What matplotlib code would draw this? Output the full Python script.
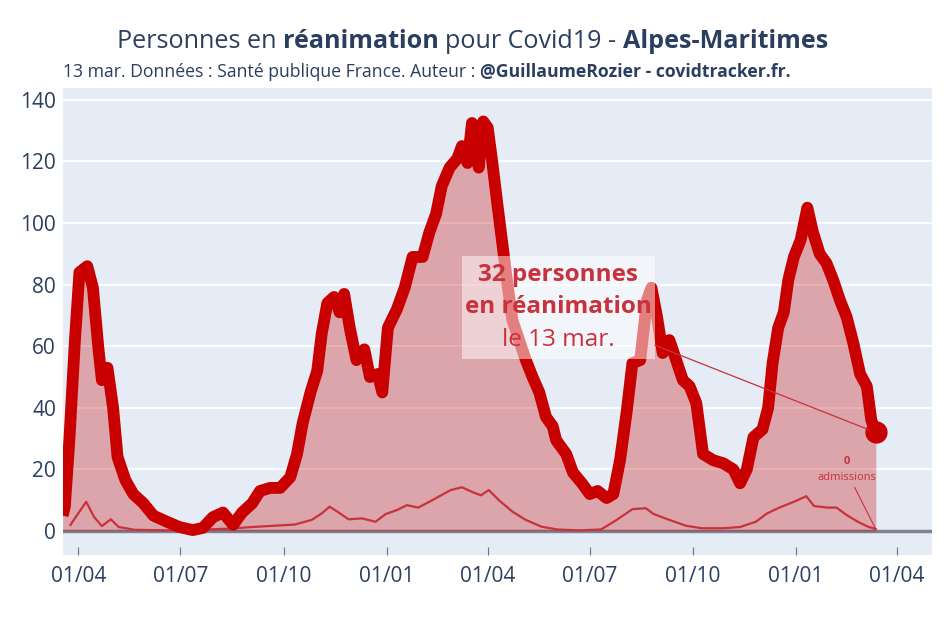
import matplotlib
matplotlib.use("Agg")
import matplotlib.pyplot as plt
import pandas as pd
from matplotlib.patches import Rectangle
from matplotlib.transforms import Bbox, IdentityTransform

# personnes en réanimation, Alpes-Maritimes
rea_dates = [
    "2020-03-18", "2020-03-20", "2020-03-24", "2020-03-29", "2020-04-02", "2020-04-09",
    "2020-04-14", "2020-04-19", "2020-04-22", "2020-04-27", "2020-05-02", "2020-05-06",
    "2020-05-13", "2020-05-20", "2020-05-29", "2020-06-07", "2020-06-19", "2020-06-30",
    "2020-07-12", "2020-07-21", "2020-07-30", "2020-08-08", "2020-08-17", "2020-08-25",
    "2020-09-03", "2020-09-10", "2020-09-19", "2020-09-28", "2020-10-07", "2020-10-13",
    "2020-10-18", "2020-10-25", "2020-10-31", "2020-11-04", "2020-11-09", "2020-11-15",
    "2020-11-20", "2020-11-24", "2020-11-29", "2020-12-05", "2020-12-12", "2020-12-17",
    "2020-12-24", "2020-12-28", "2021-01-02", "2021-01-10", "2021-01-17", "2021-01-24",
    "2021-02-02", "2021-02-08", "2021-02-14", "2021-02-19", "2021-02-26", "2021-03-05",
    "2021-03-09", "2021-03-14", "2021-03-18", "2021-03-24", "2021-03-28", "2021-04-01",
    "2021-04-05", "2021-04-10", "2021-04-14", "2021-04-19", "2021-04-23", "2021-04-29",
    "2021-05-05", "2021-05-11", "2021-05-17", "2021-05-23", "2021-05-29", "2021-06-01",
    "2021-06-10", "2021-06-16", "2021-06-24", "2021-07-01", "2021-07-08", "2021-07-16",
    "2021-07-22", "2021-07-28", "2021-08-03", "2021-08-08", "2021-08-15", "2021-08-21",
    "2021-08-25", "2021-08-30", "2021-09-04", "2021-09-10", "2021-09-16", "2021-09-22",
    "2021-09-28", "2021-10-04", "2021-10-10", "2021-10-19", "2021-10-28", "2021-11-06",
    "2021-11-12", "2021-11-18", "2021-11-24", "2021-12-02", "2021-12-07", "2021-12-11",
    "2021-12-16", "2021-12-21", "2021-12-25", "2021-12-30", "2022-01-05", "2022-01-11",
    "2022-01-16", "2022-01-22", "2022-01-28", "2022-02-03", "2022-02-09", "2022-02-15",
    "2022-02-21", "2022-02-27", "2022-03-05", "2022-03-09", "2022-03-13",
]
rea_values = [
    5, 8, 29.5, 62, 84, 86,
    79, 59, 49, 53, 40, 24,
    16.5, 12, 9, 5, 3, 1.3,
    0.3, 1, 4.5, 6, 2, 6,
    9, 13, 14, 14, 17.5, 25,
    35, 45, 52, 64, 74, 76,
    71, 77, 66, 55.5, 59, 50,
    51, 45, 66, 72, 79, 89,
    89, 97, 103, 112, 118, 121,
    125, 119.5, 132.5, 118, 133, 131,
    120, 105, 93.5, 79, 68.5, 62,
    55.5, 50, 45, 37, 34, 29.5,
    25, 19, 15.5, 12, 13, 10.7,
    12, 23, 39, 54.5, 55.5, 75,
    79, 69.5, 57.8, 62, 55.5, 49,
    47, 41.5, 25, 23, 22, 20,
    15.5, 20, 30.5, 33, 40, 54.5,
    66, 71, 81.5, 89, 94.5, 105,
    97, 90, 87, 81.5, 75, 69.5,
    61, 51, 47, 36, 32,
]

# admissions en réanimation, moyenne 7 jours
adm_dates = [
    "2020-03-25", "2020-04-08", "2020-04-15", "2020-04-22", "2020-04-30", "2020-05-07",
    "2020-05-21", "2020-06-19", "2020-07-17", "2020-08-15", "2020-09-03", "2020-09-22",
    "2020-10-11", "2020-10-26", "2020-11-04", "2020-11-11", "2020-11-18", "2020-11-28",
    "2020-12-10", "2020-12-22", "2020-12-31", "2021-01-10", "2021-01-19", "2021-01-29",
    "2021-02-08", "2021-02-17", "2021-02-27", "2021-03-09", "2021-03-18", "2021-03-26",
    "2021-04-02", "2021-04-11", "2021-04-23", "2021-05-05", "2021-05-19", "2021-06-02",
    "2021-06-21", "2021-07-11", "2021-07-25", "2021-08-08", "2021-08-20", "2021-08-27",
    "2021-09-10", "2021-09-25", "2021-10-09", "2021-10-28", "2021-11-12", "2021-11-26",
    "2021-12-06", "2021-12-17", "2021-12-30", "2022-01-10", "2022-01-17", "2022-01-29",
    "2022-02-06", "2022-02-15", "2022-02-25", "2022-03-06", "2022-03-11", "2022-03-13",
]
adm_values = [
    2, 9.5, 4.6, 1.6, 3.8, 1.3,
    0.4, 0.2, 0.4, 0.8, 1.3, 1.7,
    2.1, 3.6, 5.7, 7.9, 6.3, 3.8,
    4.1, 3, 5.5, 6.8, 8.4, 7.6,
    9.5, 11.3, 13.3, 14.2, 12.7, 11.6,
    13.3, 10, 6.3, 3.6, 1.4, 0.5,
    0.2, 0.5, 3.6, 7.1, 7.4, 5.5,
    3.6, 1.7, 0.9, 0.9, 1.3, 3,
    5.7, 7.6, 9.5, 11.3, 8.1, 7.6,
    7.6, 5.2, 3, 1.4, 0.9, 0.6,
]

last_date = "2022-03-13"
last_rea = 32
last_adm_day = 0

tick_dates = ["2020-04-01", "2020-07-01", "2020-10-01", "2021-01-01", "2021-04-01",
              "2021-07-01", "2021-10-01", "2022-01-01", "2022-04-01"]
tick_labels = ["01/04", "01/07", "01/10", "01/01", "01/04", "01/07", "01/10", "01/01", "01/04"]
y_ticks = [0, 20, 40, 60, 80, 100, 120, 140]

FONT = "Open Sans"
TXT = "#2a3f5f"
RED = "#c80000"
RED2 = "#c8323c"

plt.rcParams["font.family"] = [FONT, "DejaVu Sans"]

rea_x = pd.to_datetime(rea_dates)
adm_x = pd.to_datetime(adm_dates)
end_x = pd.Timestamp(last_date)

fig = plt.figure(figsize=(9.45, 6.3), dpi=100)
ax = fig.add_axes([0.0667, 0.119, 0.9193, 0.741])
ax.set_facecolor("#e5ecf6")
for s in ax.spines.values():
    s.set_visible(False)

ax.fill_between(rea_x, rea_values, 0, color=(200/255, 0, 0, 0.3), lw=0, zorder=2)
ax.plot(rea_x, rea_values, color=RED, lw=8.5, zorder=4, solid_joinstyle="round",
        solid_capstyle="butt")
ax.plot(adm_x, adm_values, color=RED2, lw=1.6, zorder=3)
ax.plot([end_x], [last_rea], "o", color=RED, ms=15, zorder=5)
ax.axhline(0, color="#7d8590", lw=2.5, zorder=1)

ax.set_ylim(-7.8, 143.8)
ax.set_xlim(pd.Timestamp("2020-03-18 09:00"), pd.Timestamp("2022-05-01 22:00"))
ax.set_yticks(y_ticks)
ax.yaxis.grid(True, color="white", lw=1.3, zorder=0)
ax.set_axisbelow(True)
ax.set_xticks(pd.to_datetime(tick_dates))
ax.set_xticklabels(tick_labels)
ax.tick_params(axis="y", length=0, pad=5, labelsize=15, labelcolor=TXT)
ax.tick_params(axis="x", direction="in", length=6, color="#6b7684", pad=8,
               labelsize=15, labelcolor=TXT)

r = fig.canvas.get_renderer()

# encadré principal
box_at = (pd.Timestamp("2021-06-03"), 72.7)
lines = []
for txt, w, dy in [("32 personnes", "bold", 32), ("en réanimation", "bold", 0),
                   ("le 13 mar.", "normal", -33)]:
    t = ax.annotate(txt, xy=box_at, xytext=(0, dy * 0.72), textcoords="offset points",
                    ha="center", va="center", fontsize=17.5, fontweight=w,
                    color=RED2, zorder=7)
    lines.append(t)
bb = Bbox.union([t.get_window_extent(r) for t in lines])
cx, cy = ax.transData.transform((ax.xaxis.convert_units(box_at[0]), box_at[1]))
half_w = bb.width / 2 + 3
half_h = 51.5
rect = Rectangle((cx - half_w, cy - half_h), 2 * half_w, 2 * half_h,
                 transform=IdentityTransform(), fc=(1, 1, 1, 0.5), ec="none", zorder=6)
ax.add_artist(rect)
ax.annotate("", xy=(end_x, last_rea), xytext=box_at,
            arrowprops=dict(arrowstyle="-", color=RED2, lw=0.9, patchA=rect,
                            shrinkA=0, shrinkB=6), zorder=6)

# annotation admissions
adm_at = (pd.Timestamp("2022-02-15"), 20)
ax.annotate(str(last_adm_day), xy=adm_at, xytext=(0, 6), textcoords="offset points",
            ha="center", va="center", fontsize=8, fontweight="bold", color=RED2, zorder=7)
ax.annotate("admissions", xy=(end_x, 0.6), xytext=(adm_at[0], adm_at[1] - 2.7),
            textcoords="data", ha="center", va="center", fontsize=8, color=RED2, zorder=7,
            arrowprops=dict(arrowstyle="-", color=RED2, lw=0.8, shrinkA=1, shrinkB=1,
                            relpos=(0.6, 0)))


def rich_text(x, y, parts, size, ha="center"):
    probe1 = fig.text(0, 0, "x x", fontsize=size)
    probe2 = fig.text(0, 0, "xx", fontsize=size)
    space = probe1.get_window_extent(r).width - probe2.get_window_extent(r).width
    probe1.remove()
    probe2.remove()
    items = []
    for s, w in parts:
        t = fig.text(0, y, s, fontsize=size, fontweight=w, color=TXT, va="center")
        items.append((t, t.get_window_extent(r).width))
    total = sum(w for _, w in items) + space * (len(items) - 1)
    x0 = x * fig.bbox.width - (total / 2 if ha == "center" else 0)
    for t, w in items:
        t.set_x(x0 / fig.bbox.width)
        x0 += w + space


rich_text(0.5, 1 - 42 / 630, [("Personnes en", "normal"), ("réanimation", "bold"),
                              ("pour Covid19 -", "normal"), ("Alpes-Maritimes", "bold")], 18.1)
rich_text(63 / 945, 1 - 72 / 630, [("13 mar. Données : Santé publique France. Auteur :", "normal"),
                                   ("@GuillaumeRozier - covidtracker.fr.", "bold")], 12.7, ha="left")

fig.savefig("out.png", dpi=100, facecolor="white")
